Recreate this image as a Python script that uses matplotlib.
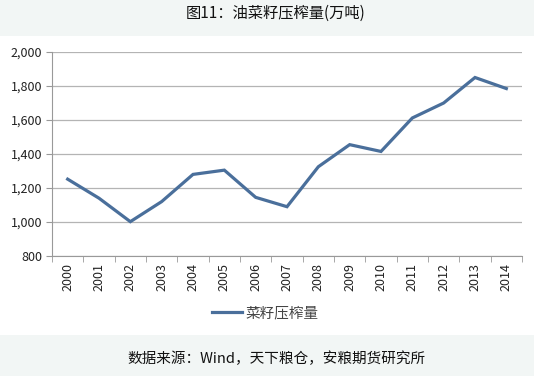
import matplotlib
matplotlib.use("Agg")
import matplotlib.pyplot as plt
from matplotlib.patches import Rectangle

plt.rcParams['font.family'] = ['Noto Sans CJK SC', 'DejaVu Sans']

# ── data ────────────────────────────────────────────────────────────────────
years = ["2000", "2001", "2002", "2003", "2004", "2005", "2006", "2007",
         "2008", "2009", "2010", "2011", "2012", "2013", "2014"]
crush = [1252, 1140, 1002, 1120, 1280, 1305, 1145, 1090,
         1325, 1455, 1415, 1612, 1700, 1850, 1785]
yticks = [800, 1000, 1200, 1400, 1600, 1800, 2000]

title = "图11：油菜籽压榨量(万吨)"
source = "数据来源：Wind，天下粮仓，安粮期货研究所"
series_name = "菜籽压榨量"

_BAND = "#f2f6f5"
_LINE = "#4a6f9b"
_GRID = "#b4b4b4"
_TEXT = "#222222"

W, H = 534, 376
fig = plt.figure(figsize=(W / 100, H / 100), dpi=100)
fig.patch.set_facecolor("white")

# header / footer bands
fig.patches.append(Rectangle((0, 1 - 36 / H), 1, 36 / H, transform=fig.transFigure,
                             facecolor=_BAND, edgecolor="none", zorder=0))
fig.patches.append(Rectangle((0, 0), 1, 41 / H, transform=fig.transFigure,
                             facecolor=_BAND, edgecolor="none", zorder=0))

fig.text(276 / W, 1 - 13 / H, title, ha="center", va="center", fontsize=11, color="#111111")
fig.text(276 / W, 1 - 359 / H, source, ha="center", va="center", fontsize=10.5, color="#111111")

ax = fig.add_axes([52 / W, 1 - 256 / H, (522 - 52) / W, (256 - 52) / H])
x = list(range(len(years)))
ax.plot(x, crush, color=_LINE, lw=2.3, label=series_name, solid_joinstyle="miter")

ax.set_xlim(-0.5, len(years) - 0.5)
ax.set_ylim(800, 2000)
ax.set_yticks(yticks)
ax.set_yticklabels([f"{v:,}" for v in yticks])
ax.yaxis.grid(True, color=_GRID, lw=0.9)
ax.set_axisbelow(True)

ax.set_xticks(x)
ax.set_xticklabels(years, rotation=90)
ax.set_xticks([i - 0.5 for i in range(len(years) + 1)], minor=True)
ax.tick_params(axis="x", which="major", length=0, pad=5, labelsize=9, colors=_TEXT)
ax.tick_params(axis="x", which="minor", length=4, color="#999999", direction="out")
ax.tick_params(axis="y", length=4, color="#999999", labelsize=9, colors=_TEXT, pad=3)
ax.tick_params(axis="y", color="#999999")

for s in ["top", "right"]:
    ax.spines[s].set_visible(False)
ax.spines["left"].set_color("#999999")
ax.spines["bottom"].set_color("#999999")

ax.legend(loc="center", bbox_to_anchor=(265 / W, 1 - 313 / H), bbox_transform=fig.transFigure,
          frameon=False, fontsize=10.5, handlelength=2.1, handletextpad=0.2,
          labelcolor="#444444")

fig.savefig("out.png", dpi=100)
